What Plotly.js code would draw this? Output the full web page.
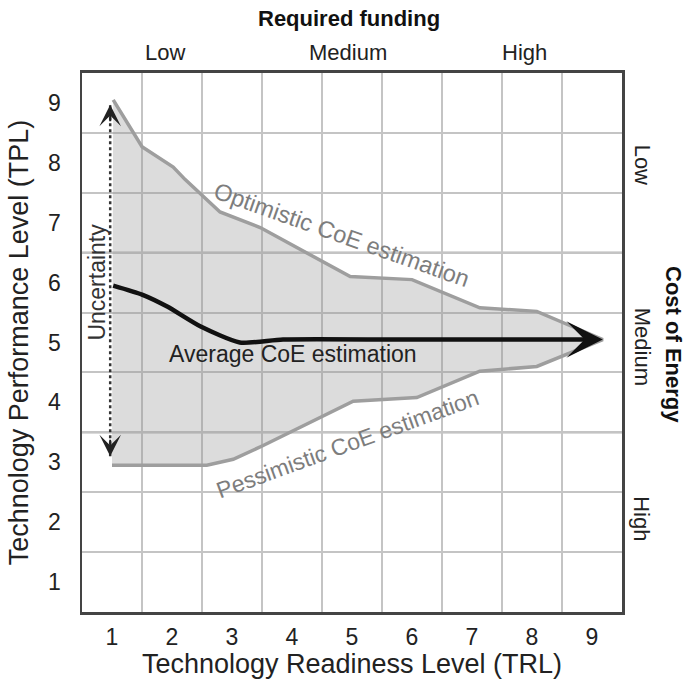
<!DOCTYPE html>
<html>
<head>
<meta charset="utf-8">
<script src="https://cdn.plot.ly/plotly-3.0.1.min.js"></script>
<style>html,body{margin:0;padding:0;background:#fff;}#chart{width:688px;height:679px;}</style>
</head>
<body>
<div id="chart"></div>
<script>
// ---- data ----
const trlTicks = [1, 2, 3, 4, 5, 6, 7, 8, 9];
const tplTicks = [1, 2, 3, 4, 5, 6, 7, 8, 9];
const gridVals = [1.5, 2.5, 3.5, 4.5, 5.5, 6.5, 7.5, 8.5];
const bandEdges = [3.5, 6.5];

// optimistic CoE estimation (upper edge of uncertainty band)
const optX = [1.02, 1.5, 2.02, 2.22, 2.8, 3.47, 4.97, 6.0, 7.13, 8.08, 9.18];
const optY = [9.05, 8.27, 7.93, 7.72, 7.18, 6.92, 6.1, 6.05, 5.58, 5.52, 5.05];
// pessimistic CoE estimation (lower edge)
const pesX = [1.0, 2.58, 3.02, 3.52, 5.02, 6.08, 7.13, 8.08, 9.18];
const pesY = [2.95, 2.95, 3.05, 3.28, 4.02, 4.08, 4.52, 4.6, 5.05];
// average CoE estimation
const avgX = [1.02, 1.5, 1.92, 2.47, 3.13, 3.85, 5.8, 8.9];
const avgY = [5.95, 5.8, 5.6, 5.27, 5.0, 5.05, 5.05, 5.05];
const tip = [9.18, 5.05];
// uncertainty double arrow
const uncX = [0.97, 0.97];
const uncY = [3.1, 8.97];

const fundingLabels = ['Low', 'Medium', 'High'];
const fundingPos = [1.88, 4.93, 7.88];
const costLabels = ['Low', 'Medium', 'High'];
const costPos = [7.97, 4.93, 2.05];

const FONT = 'Liberation Sans, Arial, sans-serif';

const bandX = optX.concat(pesX.slice().reverse());
const bandY = optY.concat(pesY.slice().reverse());

const traces = [
  {
    x: bandX, y: bandY, type: 'scatter', mode: 'lines',
    fill: 'toself', fillcolor: 'rgba(146,146,146,0.32)',
    line: {color: '#9e9e9e', width: 3.5},
    hoverinfo: 'skip', showlegend: false
  },
  {
    x: avgX, y: avgY, type: 'scatter', mode: 'lines',
    line: {color: '#111', width: 4.5, shape: 'spline', smoothing: 0.6},
    hoverinfo: 'skip', showlegend: false
  },
  {
    x: uncX, y: uncY, type: 'scatter', mode: 'lines',
    line: {color: '#333', width: 2.5, dash: 'dot'},
    hoverinfo: 'skip', showlegend: false
  }
];

const annotations = [
  // arrowheads
  {x: tip[0], y: tip[1], ax: avgX[avgX.length - 1], ay: avgY[avgY.length - 1], axref: 'x', ayref: 'y',
   xref: 'x', yref: 'y', text: '', showarrow: true, arrowhead: 3, arrowwidth: 4.5, arrowsize: 1.35, arrowcolor: '#111', standoff: 0},
  {x: uncX[1], y: uncY[1], ax: 0, ay: 18, xref: 'x', yref: 'y', text: '', showarrow: true,
   arrowhead: 3, arrowwidth: 2, arrowsize: 1.8, arrowcolor: '#222', standoff: 0},
  {x: uncX[0], y: uncY[0], ax: 0, ay: -18, xref: 'x', yref: 'y', text: '', showarrow: true,
   arrowhead: 3, arrowwidth: 2, arrowsize: 1.8, arrowcolor: '#222', standoff: 0},
  // in-plot labels
  {x: 4.02, y: 4.8, xref: 'x', yref: 'y', text: 'Average CoE estimation', showarrow: false,
   font: {family: FONT, size: 23, color: '#222'}},
  {x: 4.83, y: 6.79, xref: 'x', yref: 'y', text: 'Optimistic CoE estimation', showarrow: false, textangle: 19.5,
   font: {family: FONT, size: 23.5, color: '#7d7d7d'}},
  {x: 4.92, y: 3.3, xref: 'x', yref: 'y', text: 'Pessimistic CoE estimation', showarrow: false, textangle: -20,
   font: {family: FONT, size: 23, color: '#7d7d7d'}},
  {x: 0.75, y: 6.0, xref: 'x', yref: 'y', text: 'Uncertainty', showarrow: false, textangle: -90,
   font: {family: FONT, size: 23, color: '#333'}},
  // top: required funding
  {x: 0.495, y: 1.102, xref: 'paper', yref: 'paper', xanchor: 'center', yanchor: 'middle',
   text: '<b>Required funding</b>', showarrow: false,
   font: {family: FONT, size: 22, color: '#111'}}
];
fundingLabels.forEach((t, i) => annotations.push({
  x: fundingPos[i], y: 1.038, xref: 'x', yref: 'paper', xanchor: 'center', yanchor: 'middle',
  text: t, showarrow: false,
  font: {family: FONT, size: 22, color: '#222'}
}));
costLabels.forEach((t, i) => annotations.push({
  x: 1.037, y: costPos[i], xref: 'paper', yref: 'y', xanchor: 'center', yanchor: 'middle',
  text: t, showarrow: false, textangle: 90,
  font: {family: FONT, size: 22, color: '#222'}
}));
annotations.push({x: 1.095, y: 4.97, xref: 'paper', yref: 'y', xanchor: 'center', yanchor: 'middle',
  text: '<b>Cost of Energy</b>', showarrow: false,
  textangle: 90, font: {family: FONT, size: 22, color: '#111'}});

const shapes = [];
bandEdges.forEach(v => {
  shapes.push({type: 'line', xref: 'x', yref: 'paper', x0: v, x1: v, y0: 0, y1: 1,
    line: {color: '#6e6e6e', width: 2}, layer: 'between'});
  shapes.push({type: 'line', xref: 'paper', yref: 'y', x0: 0, x1: 1, y0: v, y1: v,
    line: {color: '#6e6e6e', width: 2}, layer: 'between'});
});

const axisCommon = {
  range: [0.5, 9.5], showgrid: false, zeroline: false, ticks: '',
  showline: true, mirror: true, linecolor: '#444',
  tickfont: {family: FONT, size: 23, color: '#222'},
  minor: {tickvals: gridVals, showgrid: true, gridcolor: '#c4c4c4', gridwidth: 2, ticks: ''},
  fixedrange: true
};

const layout = {
  width: 688, height: 679,
  margin: {l: 82, r: 66, t: 73, b: 67},
  paper_bgcolor: '#fff', plot_bgcolor: '#fff',
  font: {family: FONT, color: '#222'},
  showlegend: false,
  xaxis: Object.assign({}, axisCommon, {
    tickvals: trlTicks, ticktext: trlTicks.map(String), linewidth: 3,
    ticklabelstandoff: 2,
    title: {text: 'Technology Readiness Level (TRL)', font: {family: FONT, size: 27, color: '#222'}, standoff: 2}
  }),
  yaxis: Object.assign({}, axisCommon, {
    tickvals: tplTicks, ticktext: tplTicks.map(String), linewidth: 2.5,
    ticklabelstandoff: 14,
    title: {text: 'Technology Performance Level (TPL)', font: {family: FONT, size: 27, color: '#222'}, standoff: 12}
  }),
  shapes: shapes,
  annotations: annotations
};

Plotly.newPlot('chart', traces, layout, {staticPlot: true, displayModeBar: false});
</script>
</body>
</html>
